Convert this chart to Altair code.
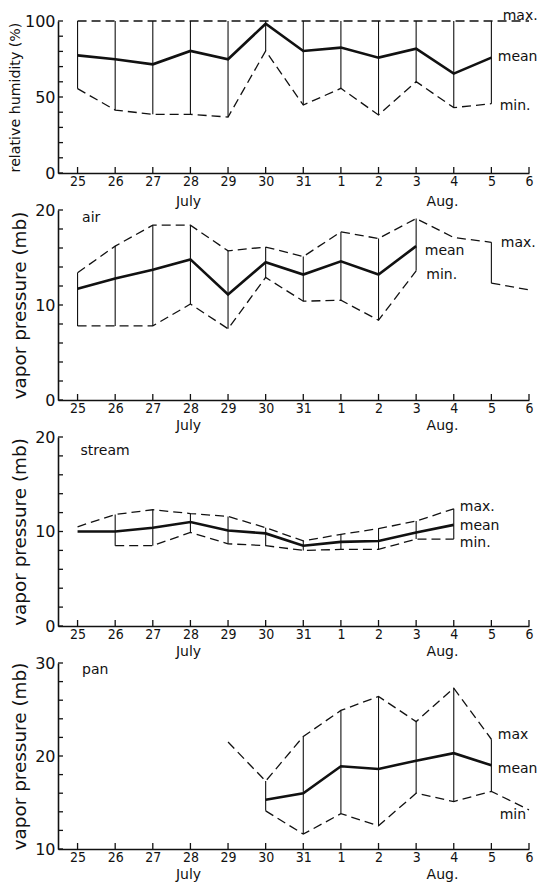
import altair as alt
import pandas as pd

# ---------------- data ----------------
DAYS = ["25", "26", "27", "28", "29", "30", "31", "1", "2", "3", "4", "5", "6"]

# relative humidity (%)
rh_mean = [77.4, 74.8, 71.5, 80.3, 74.8, 98.2, 80.3, 82.5, 75.9, 81.8, 65.4, 75.9, None]
rh_max = [100, 100, 100, 100, 100, 100, 100, 100, 100, 100, 100, 100, 100]
rh_min = [55.5, 41.4, 38.6, 38.6, 36.8, 80.3, 44.7, 55.7, 38.2, 60.1, 43.0, 45.6, None]

# air vapor pressure (mb)
air_mean = [11.7, 12.8, 13.7, 14.8, 11.1, 14.5, 13.2, 14.6, 13.2, 16.2, None, None, None]
air_max = [13.4, 16.2, 18.4, 18.4, 15.7, 16.1, 15.1, 17.7, 17.0, 19.1, 17.1, 16.6, None]
air_min = [7.8, 7.8, 7.8, 10.1, 7.5, 12.9, 10.4, 10.5, 8.4, 13.6, None, 12.3, 11.6]

# stream vapor pressure (mb)
st_mean = [10.0, 10.0, 10.4, 11.0, 10.1, 9.8, 8.5, 8.9, 9.0, 9.9, 10.7, None, None]
st_max = [10.5, 11.8, 12.3, 11.9, 11.6, 10.4, 9.0, 9.7, 10.3, 11.1, 12.4, None, None]
st_min = [None, 8.5, 8.5, 9.9, 8.7, 8.5, 8.0, 8.1, 8.1, 9.2, 9.2, None, None]

# pan vapor pressure (mb)
pan_mean = [None, None, None, None, None, 15.3, 16.0, 18.9, 18.6, 19.5, 20.3, 19.0, None]
pan_max = [None, None, None, None, 21.5, 17.3, 22.1, 24.9, 26.4, 23.7, 27.3, 21.8, None]
pan_min = [None, None, None, None, None, 14.1, 11.6, 13.8, 12.5, 16.0, 15.1, 16.2, 14.2]

# annotations: text, x (day index), y (value)
rh_ann = (["max.", "mean", "min."], [11.3, 11.17, 11.22], [103.5, 76.0, 44.0])
air_ann = (["air", "max.", "mean", "min."], [0.12, 11.25, 9.23, 9.27], [19.2, 16.5, 15.7, 13.2])
st_ann = (["stream", "max.", "mean", "min."], [0.08, 10.16, 10.16, 10.16], [18.5, 12.6, 10.6, 8.8])
pan_ann = (["pan", "max", "mean", "min"], [0.12, 11.17, 11.17, 11.22], [29.3, 22.3, 18.6, 13.7])

MONTHS = ["July", "Aug."]
MONTH_POS = [2.95, 9.7]

FONT = "DejaVu Sans"
NUMFONT = "Liberation Sans Narrow, DejaVu Sans Condensed, Liberation Sans, sans-serif"
INK = "#111111"
W = 471


def segments(values, stat):
    rows, seg = [], 0
    for i, v in enumerate(values):
        if v is None:
            seg += 1
            continue
        rows.append({"i": i, "v": v, "stat": stat, "seg": f"{stat}{seg}"})
    return rows


def panel(mean, mx, mn, ydom, yticks, ylabels, title, tsize, tpad, h, ann, moff):
    xs = alt.Scale(domain=[-0.52, 12], nice=False, zero=False)
    ys = alt.Scale(domain=ydom, nice=False, zero=False)
    xaxis = alt.Axis(values=list(range(13)), labelExpr=f"{DAYS}[datum.value]",
                     ticks=False, tickSize=0, grid=False, domainColor=INK,
                     domainWidth=1.6, labelFont=NUMFONT, labelFontSize=14,
                     labelColor=INK, labelPadding=1, labelFlush=False,
                     labelOverlap=False, title=None)
    yaxis = alt.Axis(values=ylabels, ticks=False, tickSize=0, grid=False,
                     domainColor=INK, domainWidth=1.6, labelFont=FONT,
                     labelFontSize=16, labelColor=INK, labelPadding=3,
                     title=title, titleFont=FONT, titleFontSize=tsize,
                     titleFontWeight="normal", titleColor=INK, titlePadding=tpad)

    def X(f="i"):
        return alt.X(f"{f}:Q", scale=xs, axis=xaxis)

    def Y(f="v"):
        return alt.Y(f"{f}:Q", scale=ys, axis=yaxis)

    dash = pd.DataFrame(segments(mx, "max") + segments(mn, "min"))
    mdf = pd.DataFrame(segments(mean, "mean"))
    vert = pd.DataFrame([{"i": i, "lo": lo, "hi": hi}
                         for i, (lo, hi) in enumerate(zip(mn, mx))
                         if lo is not None and hi is not None])
    ytk = pd.DataFrame({"v": yticks})
    xtk = pd.DataFrame({"i": list(range(13))})
    adf = pd.DataFrame({"t": ann[0], "i": ann[1], "v": ann[2]})
    mon = pd.DataFrame({"t": MONTHS, "i": MONTH_POS})

    layers = [
        alt.Chart(vert).mark_rule(color=INK, strokeWidth=1.1).encode(
            x=X(), y=Y("lo"), y2="hi:Q"),
        alt.Chart(dash).mark_line(color=INK, strokeWidth=1.3, strokeDash=[9, 5]).encode(
            x=X(), y=Y(), detail="seg:N"),
        alt.Chart(mdf).mark_line(color=INK, strokeWidth=2.6).encode(
            x=X(), y=Y()),
        alt.Chart(ytk).mark_rule(color=INK, strokeWidth=1.3).encode(
            y=Y(), x=alt.value(0), x2=alt.value(5)),
        alt.Chart(xtk).mark_rule(color=INK, strokeWidth=1.3).encode(
            x=X(), y=alt.value(h), y2=alt.value(h - 6)),
        alt.Chart(adf).mark_text(align="left", baseline="middle", font=FONT,
                                 fontSize=14, color=INK).encode(
            x=X(), y=Y(), text="t:N"),
        alt.Chart(mon).mark_text(align="center", baseline="middle", font=FONT,
                                 fontSize=14, color=INK).encode(
            x=X(), y=alt.value(h + moff), text="t:N"),
    ]
    return alt.layer(*layers).properties(width=W, height=h)


p1 = panel(rh_mean, rh_max, rh_min, [0, 100], list(range(0, 101, 10)), [0, 50, 100],
           "relative  humidity (%)", 14.2, 2, 152, rh_ann, 28.5)
p2 = panel(air_mean, air_max, air_min, [0, 20], list(range(0, 21, 2)), [0, 10, 20],
           "vapor  pressure (mb)", 18.4, 5, 190, air_ann, 26)
p3 = panel(st_mean, st_max, st_min, [0, 20], list(range(0, 21, 2)), [0, 10, 20],
           "vapor  pressure (mb)", 18.4, 5, 189, st_ann, 26)
p4 = panel(pan_mean, pan_max, pan_min, [10, 30], list(range(10, 31, 2)), [10, 20, 30],
           "vapor  pressure (mb)", 18.4, 5, 186, pan_ann, 26)

chart = alt.vconcat(p1, p2, p3, p4, spacing=37, bounds="flush").properties(
    padding={"left": 0, "top": 0, "right": 0, "bottom": 0},
    background="white",
).configure_view(stroke=None)

chart.save("out.html", embed_options={"renderer": "svg", "actions": False})
